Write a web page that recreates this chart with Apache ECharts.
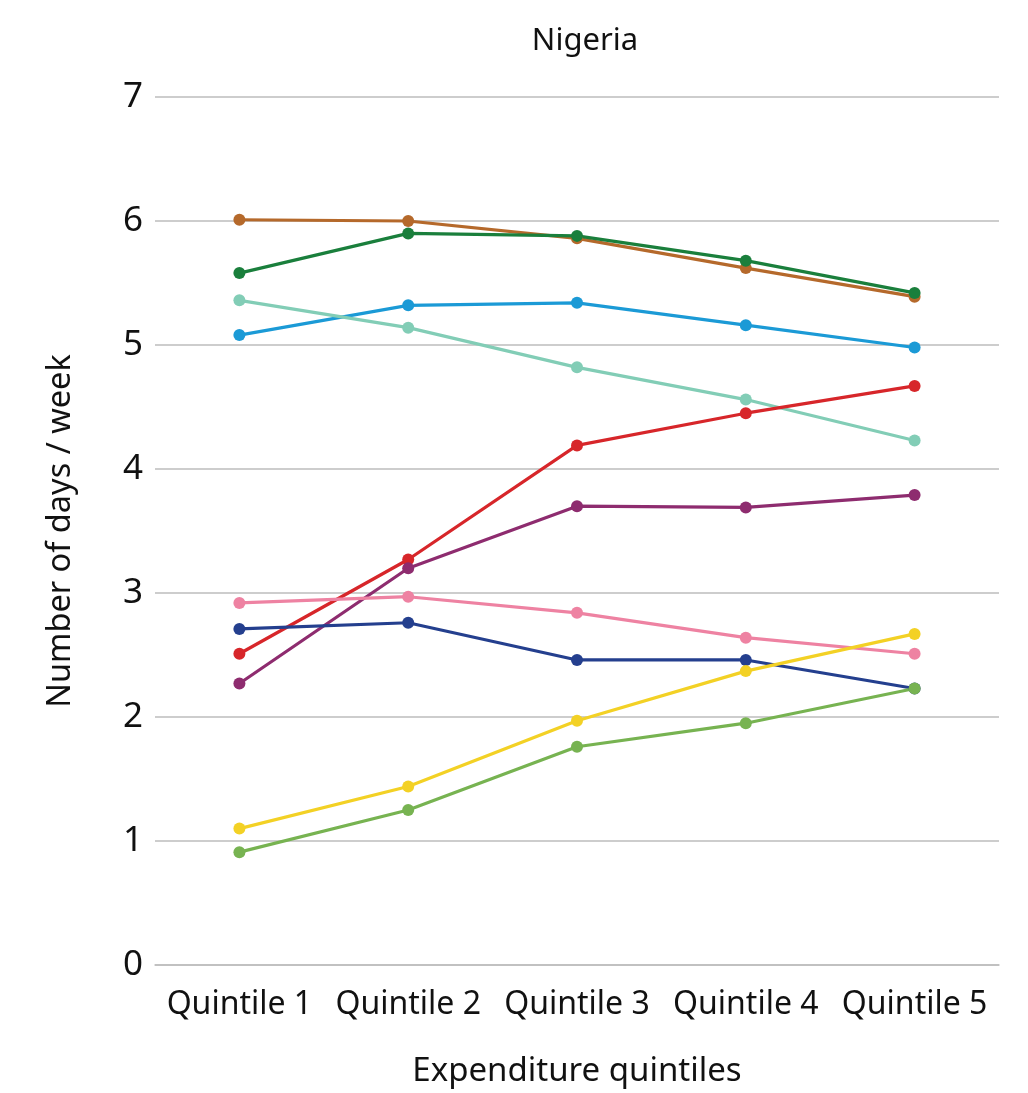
<!DOCTYPE html>
<html><head><meta charset="utf-8">
<script src="https://cdn.jsdelivr.net/npm/echarts@6/dist/echarts.min.js"></script>
<style>html,body{margin:0;padding:0;background:#fff;overflow:hidden}#c{width:1028px;height:1093px}</style>
</head><body><div id="c"></div>
<script>
const categories = ['Quintile 1','Quintile 2','Quintile 3','Quintile 4','Quintile 5'];
const yTicks = [0,1,2,3,4,5,6,7];
const brown = [6.01, 6.00, 5.86, 5.62, 5.39];
const darkGreen = [5.58, 5.90, 5.88, 5.68, 5.42];
const blue = [5.08, 5.32, 5.34, 5.16, 4.98];
const teal = [5.36, 5.14, 4.82, 4.56, 4.23];
const red = [2.51, 3.27, 4.19, 4.45, 4.67];
const purple = [2.27, 3.20, 3.70, 3.69, 3.79];
const pink = [2.92, 2.97, 2.84, 2.64, 2.51];
const navy = [2.71, 2.76, 2.46, 2.46, 2.23];
const yellow = [1.10, 1.44, 1.97, 2.37, 2.67];
const lightGreen = [0.91, 1.25, 1.76, 1.95, 2.23];

const seriesList = [
  ['Series A', brown, '#B5692B'],
  ['Series B', darkGreen, '#1A7F3C'],
  ['Series C', blue, '#1B9AD6'],
  ['Series D', teal, '#82CDB6'],
  ['Series E', red, '#D7262A'],
  ['Series F', purple, '#8E2C6F'],
  ['Series G', pink, '#EE82A2'],
  ['Series H', navy, '#243F8E'],
  ['Series I', yellow, '#F3D125'],
  ['Series J', lightGreen, '#77B351']
];
const font = '"Noto Sans", sans-serif';
const chart = echarts.init(document.getElementById('c'));
chart.setOption({
  animation: false,
  title: { text: 'Nigeria', left: 580, top: 21, textAlign: 'center',
    textStyle: { fontFamily: font, fontSize: 31, fontWeight: 'normal', color: '#111' } },
  grid: { left: 155, width: 844, top: 97, height: 872, containLabel: false },
  xAxis: {
    type: 'category', data: categories, boundaryGap: true,
    axisLine: { show: true, lineStyle: { color: '#bdbdbd', width: 1.5 } },
    axisTick: { show: false },
    axisLabel: { fontFamily: font, fontSize: 32, color: '#111', margin: 24, interval: 0 },
    name: 'Expenditure quintiles', nameLocation: 'middle', nameGap: 90,
    nameTextStyle: { fontFamily: font, fontSize: 33, color: '#111' }
  },
  yAxis: {
    type: 'value', min: yTicks[0], max: yTicks[yTicks.length-1], interval: 1,
    axisLine: { show: false }, axisTick: { show: false },
    splitLine: { lineStyle: { color: '#bdbdbd', width: 1.5 } },
    axisLabel: { fontFamily: font, fontSize: 35, color: '#111', margin: 12 },
    name: 'Number of days / week', nameLocation: 'middle', nameGap: 78, nameRotate: 90,
    nameTextStyle: { fontFamily: font, fontSize: 32.5, color: '#111' }
  },
  series: seriesList.map(([n, d, c]) => ({
    name: n, type: 'line', data: d, symbol: 'circle', symbolSize: 12,
    lineStyle: { color: c, width: 3.2 }, itemStyle: { color: c }
  }))
});
</script></body></html>
